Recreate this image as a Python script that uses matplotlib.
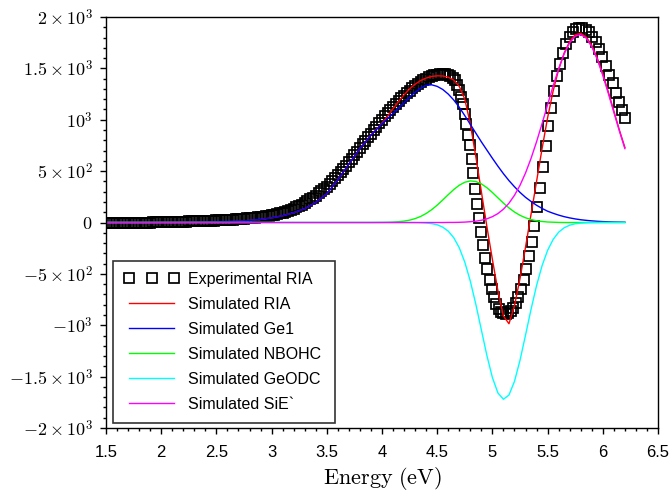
import matplotlib
matplotlib.use('Agg')
from matplotlib import pyplot as plt
from matplotlib.ticker import MultipleLocator, FixedLocator, FixedFormatter, FormatStrFormatter

plt.rcParams['font.family'] = ['Liberation Sans', 'DejaVu Sans']
plt.rcParams['mathtext.fontset'] = 'cm'

# energy grid of the simulated curves (eV)
sim_e = [1.5, 1.6, 1.7, 1.8, 1.9, 2.0, 2.1, 2.2, 2.3, 2.4, 2.5, 2.6, 2.7, 2.8, 2.9,
         3.0, 3.1, 3.2, 3.3, 3.4, 3.5, 3.6, 3.7, 3.8, 3.9,
         4.0, 4.05, 4.1, 4.15, 4.2, 4.25, 4.3, 4.35, 4.4, 4.45, 4.5, 4.55, 4.6, 4.65,
         4.7, 4.75, 4.8, 4.85, 4.9, 4.95, 5.0, 5.05, 5.1, 5.15, 5.2, 5.25, 5.3, 5.35,
         5.4, 5.45, 5.5, 5.55, 5.6, 5.65, 5.7, 5.75, 5.8, 5.85, 5.9, 5.95, 6.0, 6.05,
         6.1, 6.15, 6.2]

sim_ria = [0, 0, 0, 0, 0, 1, 1, 2, 3, 4, 6, 9, 13, 20, 30,
           45, 66, 95, 135, 195, 280, 415, 570, 720, 852,
           965, 1035, 1108, 1178, 1243, 1300, 1346, 1382, 1406, 1421, 1428, 1426, 1414, 1386,
           1325, 1200, 960, 640, 300, -40, -360, -665, -910, -985, -810, -545, -240, 80,
           400, 720, 1020, 1280, 1490, 1650, 1762, 1828, 1842, 1805, 1725, 1600, 1445, 1270,
           1085, 900, 730]

sim_ge1 = [0, 0, 0, 0, 0, 1, 1, 2, 3, 4, 6, 9, 13, 20, 30,
           45, 66, 95, 135, 195, 280, 415, 570, 720, 850,
           960, 1012, 1062, 1112, 1165, 1220, 1268, 1308, 1335, 1340, 1325, 1295, 1250, 1192,
           1122, 1040, 955, 870, 785, 705, 625, 548, 475, 408, 348, 293, 245, 205,
           168, 137, 110, 90, 72, 57, 45, 35, 27, 21, 16, 12, 9, 7,
           5, 4, 3]

sim_nbohc = [0, 0, 0, 0, 0, 0, 0, 0, 0, 0, 0, 0, 0, 0, 0,
             0, 0, 0, 0, 0, 0, 0, 0, 0, 0,
             1, 2, 4, 8, 14, 23, 38, 59, 88, 125, 169, 219, 271, 321,
             363, 392, 405, 399, 376, 339, 292, 240, 189, 142, 102, 70, 46, 29,
             17, 10, 5, 3, 1, 0, 0, 0, 0, 0, 0, 0, 0, 0,
             0, 0, 0]

sim_geodc = [0, 0, 0, 0, 0, 0, 0, 0, 0, 0, 0, 0, 0, 0, 0,
             0, 0, 0, 0, 0, 0, 0, 0, 0, 0,
             0, 0, 0, 0, 0, -1, -1, -2, -5, -11, -22, -45, -84, -148,
             -246, -386, -571, -796, -1045, -1294, -1509, -1659, -1720, -1679, -1546, -1341, -1096, -845,
             -613, -420, -271, -165, -94, -51, -26, -12, -6, -3, -1, 0, 0, 0,
             0, 0, 0]

sim_sie = [0, 0, 0, 0, 0, 0, 0, 0, 0, 0, 0, 0, 0, 0, 0,
           0, 0, 0, 0, 0, 0, 0, 0, 0, 0,
           0, 0, 0, 0, 0, 0, 0, 0, 0, 0, 0, 0, 1, 1,
           2, 4, 8, 13, 22, 36, 57, 87, 130, 188, 265, 362, 482, 624,
           786, 963, 1147, 1329, 1497, 1641, 1749, 1814, 1829, 1794, 1711, 1587, 1432, 1257,
           1073, 891, 719]

# experimental RIA points
exp_e = [1.500, 1.525, 1.550, 1.575, 1.600, 1.625, 1.650, 1.675, 1.700, 1.725,
         1.750, 1.775, 1.800, 1.825, 1.850, 1.875, 1.900, 1.925, 1.950, 1.975,
         2.000, 2.025, 2.050, 2.075, 2.100, 2.125, 2.150, 2.175, 2.200, 2.225,
         2.250, 2.275, 2.300, 2.325, 2.350, 2.375, 2.400, 2.425, 2.450, 2.475,
         2.500, 2.525, 2.550, 2.575, 2.600, 2.625, 2.650, 2.675, 2.700, 2.725,
         2.750, 2.775, 2.800, 2.825, 2.850, 2.875, 2.900, 2.925, 2.950, 2.975,
         3.000, 3.025, 3.050, 3.075, 3.100, 3.125, 3.150, 3.175, 3.200, 3.225,
         3.250, 3.275, 3.300, 3.325, 3.350, 3.375, 3.400, 3.425, 3.450, 3.475,
         3.500, 3.525, 3.550, 3.575, 3.600, 3.625, 3.650, 3.675, 3.700, 3.725,
         3.750, 3.775, 3.800, 3.825, 3.850, 3.875, 3.900, 3.925, 3.950, 3.975,
         4.000, 4.025, 4.050, 4.075, 4.100, 4.125, 4.150, 4.175, 4.200, 4.225,
         4.250, 4.275, 4.300, 4.325, 4.350, 4.375, 4.400, 4.425, 4.450, 4.475,
         4.500, 4.525, 4.550, 4.575, 4.600,
         4.620, 4.640, 4.660, 4.680, 4.700, 4.718, 4.735, 4.750, 4.765, 4.780,
         4.795, 4.812, 4.828, 4.845, 4.862, 4.880, 4.898, 4.917, 4.936, 4.955,
         4.975, 4.995, 5.015, 5.036, 5.057, 5.078, 5.100, 5.122, 5.144, 5.166,
         5.189, 5.212, 5.235, 5.259, 5.283, 5.307, 5.331, 5.356, 5.381, 5.406,
         5.431, 5.456, 5.482, 5.508, 5.534, 5.561, 5.588, 5.615, 5.643, 5.671,
         5.699, 5.728, 5.757, 5.786, 5.815, 5.845, 5.875, 5.905, 5.935, 5.966,
         5.997, 6.028, 6.059, 6.090, 6.120, 6.150, 6.175, 6.200]

exp_ria = [-8, -8, -7, -7, -6, -6, -5, -5, -4, -4,
           -3, -3, -2, -2, -1, -1, 0, 1, 1, 2,
           3, 3, 4, 4, 5, 6, 7, 7, 8, 9,
           10, 10, 11, 12, 13, 14, 15, 16, 17, 19,
           20, 21, 23, 24, 26, 28, 29, 31, 33, 35,
           37, 40, 42, 45, 48, 51, 54, 58, 62, 66,
           70, 75, 81, 88, 95, 104, 113, 124, 135, 148,
           161, 175, 190, 207, 224, 243, 262, 283, 304, 327,
           350, 377, 404, 432, 460, 491, 522, 553, 585, 620,
           655, 690, 725, 760, 795, 830, 865, 899, 933, 967,
           1000, 1032, 1063, 1094, 1125, 1153, 1181, 1208, 1235, 1260,
           1284, 1307, 1330, 1349, 1367, 1384, 1400, 1412, 1423, 1431,
           1438, 1441, 1442, 1441, 1437,
           1430, 1410, 1385, 1340, 1285, 1225, 1150, 1060, 960, 850,
           750, 620, 480, 330, 180, 40, -90, -220, -345, -455,
           -560, -650, -725, -790, -840, -870, -885, -888, -882, -865,
           -832, -785, -725, -650, -560, -455, -330, -190, -30, 150,
           340, 540, 740, 935, 1115, 1280, 1425, 1545, 1650, 1740,
           1808, 1855, 1885, 1897, 1895, 1878, 1850, 1808, 1755, 1690,
           1612, 1528, 1440, 1360, 1265, 1175, 1095, 1015]

ytick_vals = [-2000, -1500, -1000, -500, 0, 500, 1000, 1500, 2000]
ytick_labels = [r'$-2\times10^{3}$', r'$-1.5\times10^{3}$', r'$-10^{3}$',
                r'$-5\times10^{2}$', r'$0$', r'$5\times10^{2}$', r'$10^{3}$',
                r'$1.5\times10^{3}$', r'$2\times10^{3}$']

fig = plt.figure(figsize=(6.7, 4.93), dpi=100)
ax = fig.add_axes([0.1582, 0.1318, 0.8239, 0.8337])

ax.plot(exp_e, exp_ria, linestyle='none', marker='s', markersize=7.6,
        markerfacecolor='none', markeredgecolor='black', markeredgewidth=1.25,
        label='Experimental RIA')
ax.plot(sim_e, sim_ria, color='#ff0000', linewidth=1.0, label='Simulated RIA')
ax.plot(sim_e, sim_ge1, color='#0000ff', linewidth=1.0, label='Simulated Ge1')
ax.plot(sim_e, sim_nbohc, color='#00ff00', linewidth=1.0, label='Simulated NBOHC')
ax.plot(sim_e, sim_geodc, color='#00ffff', linewidth=1.0, label='Simulated GeODC')
ax.plot(sim_e, sim_sie, color='#ff00ff', linewidth=1.0, label='Simulated SiE`')

ax.set_xlim(1.5, 6.5)
ax.set_ylim(-2000, 2000)
ax.xaxis.set_major_locator(MultipleLocator(0.5))
ax.xaxis.set_minor_locator(MultipleLocator(0.1))
ax.xaxis.set_major_formatter(FormatStrFormatter('%g'))
ax.yaxis.set_major_locator(FixedLocator(ytick_vals))
ax.yaxis.set_major_formatter(FixedFormatter(ytick_labels))
ax.yaxis.set_minor_locator(MultipleLocator(100))

ax.tick_params(which='both', direction='out', top=False, right=False, width=1.0)
ax.tick_params(which='major', length=4.5)
ax.tick_params(which='minor', length=2.5)
ax.tick_params(axis='x', which='major', pad=8, labelsize=12)
ax.tick_params(axis='y', which='major', pad=5, labelsize=13)
for s in ax.spines.values():
    s.set_linewidth(1.0)
    s.set_color('black')

ax.set_xlabel(r'$\mathrm{Energy\ (eV)}$', fontsize=16, labelpad=3)

leg = ax.legend(loc='lower left', bbox_to_anchor=(0.0127, 0.012, 0.402, 0.39),
                mode='expand', numpoints=3, fontsize=11.5, frameon=True,
                fancybox=False, borderaxespad=0, handlelength=3.4,
                handletextpad=0.55, labelspacing=0.62, borderpad=0.72)
leg.get_frame().set_edgecolor('black')
leg.get_frame().set_linewidth(1.2)

fig.savefig('out.png', dpi=100)
